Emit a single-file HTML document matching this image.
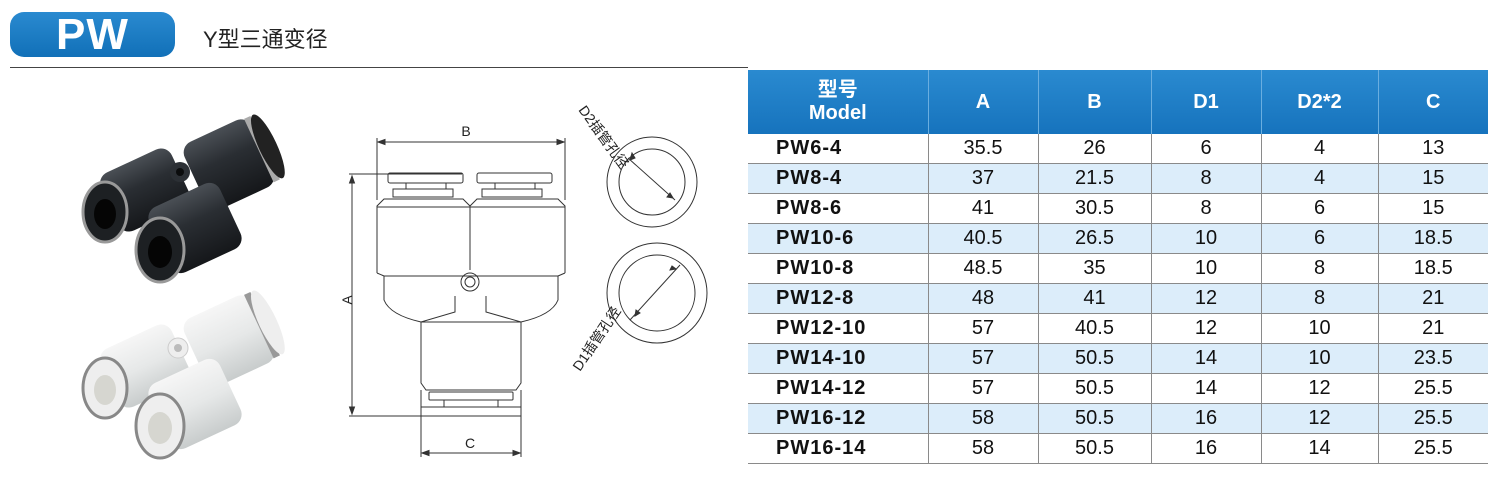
<!DOCTYPE html>
<html><head><meta charset="utf-8"><style>
body{margin:0;width:1500px;height:489px;background:#fff;position:relative;overflow:hidden;font-family:"Liberation Sans","Noto Sans CJK SC",sans-serif}
.badge{position:absolute;left:10px;top:12px;width:165px;height:45px;border-radius:14px;background:linear-gradient(#2a8ad0,#1170b8);color:#fff;font-weight:bold;font-size:44px;line-height:45px;text-align:center;letter-spacing:1px}
.title{position:absolute;left:203px;top:22px;font-size:22px;color:#222}
.hr{position:absolute;left:10px;top:67px;width:738px;height:1px;background:#444}
table{position:absolute;left:748px;top:70px;border-collapse:collapse;font-family:"Liberation Sans","Noto Sans CJK SC",sans-serif}
th{background:linear-gradient(#2a8ad0,#1673bd);color:#fff;font-weight:bold;font-size:20px;height:64px;border-left:1px solid #6aaee0;padding:0;line-height:23px}
th:first-child{border-left:none}
td{height:29px;border-bottom:1px solid #8a8a8a;border-left:1px solid #8a8a8a;text-align:center;font-size:20px;color:#111;padding:0}
td:first-child{border-left:none;font-weight:bold;text-align:left;padding-left:28px;letter-spacing:1px}
tr.b td{background:#dcedfa}
</style></head><body>
<div class="badge">PW</div>
<div class="title">Y型三通变径</div>
<div class="hr"></div>

<svg width="1500" height="489" style="position:absolute;left:0;top:0">
<defs>
<linearGradient id="bk" x1="0" y1="0" x2="0" y2="1"><stop offset="0" stop-color="#4a4f55"/><stop offset=".4" stop-color="#2a2e33"/><stop offset="1" stop-color="#15171a"/></linearGradient>
<linearGradient id="wh" x1="0" y1="0" x2="0" y2="1"><stop offset="0" stop-color="#f6f6f6"/><stop offset=".5" stop-color="#e6e8e8"/><stop offset="1" stop-color="#c8cccc"/></linearGradient>
</defs>
<!-- black fitting -->
<g>
<g transform="rotate(-25 228 165)"><rect x="192" y="128" width="74" height="74" rx="12" fill="url(#bk)"/><rect x="262" y="130" width="7" height="70" fill="#aaa"/><ellipse cx="272" cy="165" rx="9" ry="35" fill="#222"/></g>
<g transform="rotate(-25 145 190)"><rect x="106" y="158" width="78" height="64" rx="12" fill="url(#bk)"/></g>
<circle cx="180" cy="172" r="10" fill="#2c3035"/><circle cx="180" cy="172" r="4" fill="#0b0c0d"/>
<g transform="rotate(-25 195 228)"><rect x="156" y="192" width="78" height="72" rx="12" fill="url(#bk)"/></g>
<ellipse cx="105" cy="212" rx="22" ry="30" fill="#1d2023" stroke="#999" stroke-width="3"/><ellipse cx="105" cy="214" rx="11" ry="15" fill="#050505"/>
<ellipse cx="160" cy="250" rx="24" ry="32" fill="#1d2023" stroke="#999" stroke-width="3"/><ellipse cx="160" cy="252" rx="12" ry="16" fill="#050505"/>
</g>
<!-- white fitting -->
<g transform="translate(0,176)">
<g transform="rotate(-25 228 165)"><rect x="192" y="128" width="74" height="74" rx="12" fill="url(#wh)"/><rect x="262" y="130" width="7" height="70" fill="#999"/><ellipse cx="272" cy="165" rx="9" ry="35" fill="#eee"/></g>
<g transform="rotate(-25 145 190)"><rect x="106" y="158" width="78" height="64" rx="12" fill="url(#wh)"/></g>
<circle cx="178" cy="172" r="10" fill="#eee" stroke="#ccc"/><circle cx="178" cy="172" r="4" fill="#bbb"/>
<g transform="rotate(-25 195 228)"><rect x="156" y="192" width="78" height="72" rx="12" fill="url(#wh)"/></g>
<ellipse cx="105" cy="212" rx="22" ry="30" fill="#eee" stroke="#888" stroke-width="3"/><ellipse cx="105" cy="214" rx="11" ry="15" fill="#d6d6d0"/>
<ellipse cx="160" cy="250" rx="24" ry="32" fill="#eee" stroke="#888" stroke-width="3"/><ellipse cx="160" cy="252" rx="12" ry="16" fill="#d6d6d0"/>
</g>

<!-- technical drawing -->
<g fill="none" stroke="#333" stroke-width="1">
<line x1="377" y1="138" x2="377" y2="200"/><line x1="565" y1="138" x2="565" y2="200"/>
<line x1="378" y1="142" x2="564" y2="142"/>
<path d="M378 142 l7 -2.5 v5z M564 142 l-7 -2.5 v5z" fill="#333"/>
<line x1="349" y1="174" x2="462" y2="174"/>
<line x1="349" y1="416" x2="421" y2="416"/>
<line x1="352" y1="176" x2="352" y2="414"/>
<path d="M352 176 l-2.5 7 h5z M352 414 l-2.5 -7 h5z" fill="#333"/>
<rect x="388" y="173" width="75" height="10" rx="2"/><rect x="477" y="173" width="75" height="10" rx="2"/>
<line x1="406" y1="183" x2="406" y2="189"/><line x1="446" y1="183" x2="446" y2="189"/>
<line x1="495" y1="183" x2="495" y2="189"/><line x1="535" y1="183" x2="535" y2="189"/>
<rect x="393" y="189" width="60" height="8"/><rect x="482" y="189" width="60" height="8"/>
<path d="M377 273 V206 L384 199 H463 L470 206 L477 199 H558 L565 206 V273"/>
<line x1="470" y1="206" x2="470" y2="270"/>
<line x1="377" y1="207" x2="565" y2="207"/>
<path d="M377 273 L384 276 V300 Q390 315 421 322 L455 312 V296 M486 296 V312 L521 322 Q552 315 558 300 V276 L565 273"/>
<line x1="384" y1="276" x2="558" y2="276"/>
<circle cx="470" cy="282" r="9"/><circle cx="470" cy="282" r="5"/>
<path d="M421 322 V383 L426 390 H516 L521 383 V322 M421 322 H521"/>
<rect x="429" y="392" width="84" height="8" rx="1"/>
<line x1="444" y1="400" x2="444" y2="407"/><line x1="498" y1="400" x2="498" y2="407"/>
<path d="M421 390 V416 H521 V390 M421 407 H521"/>
<line x1="421" y1="416" x2="421" y2="457"/><line x1="521" y1="416" x2="521" y2="457"/>
<line x1="422" y1="453" x2="520" y2="453"/>
<path d="M422 453 l7 -2.5 v5z M520 453 l-7 -2.5 v5z" fill="#333"/>
<circle cx="652" cy="182" r="45"/><circle cx="652" cy="182" r="33"/>
<circle cx="657" cy="293" r="50"/><circle cx="657" cy="293" r="38"/>
<line x1="628" y1="158" x2="675" y2="200"/>
<path d="M630 160 l2 -7 l3 5z M673 198 l-6 -1 l3 -4z" fill="#333"/>
<line x1="630" y1="320" x2="680" y2="265"/>
<path d="M635 316 l1 -6 l4 3z M676 269 l-6 1 l2 -4z" fill="#333"/>
</g>
<g font-family="Liberation Sans,Noto Sans CJK SC,sans-serif" font-size="14" fill="#222">
<text x="466" y="136" text-anchor="middle">B</text>
<text x="470" y="448" text-anchor="middle">C</text>
<text x="348" y="304" text-anchor="middle" transform="rotate(-90 348 300)">A</text>
<text x="0" y="0" transform="translate(578 110) rotate(54)">D2插管孔径</text>
<text x="0" y="0" transform="translate(580 372) rotate(-56)">D1插管孔径</text>
</g>
</svg>

<table>
<colgroup><col style="width:180px"><col style="width:110px"><col style="width:113px"><col style="width:110px"><col style="width:117px"><col style="width:110px"></colgroup>
<tr><th>型号<br>Model</th><th>A</th><th>B</th><th>D1</th><th>D2*2</th><th>C</th></tr>
<tr><td>PW6-4</td><td>35.5</td><td>26</td><td>6</td><td>4</td><td>13</td></tr>
<tr class="b"><td>PW8-4</td><td>37</td><td>21.5</td><td>8</td><td>4</td><td>15</td></tr>
<tr><td>PW8-6</td><td>41</td><td>30.5</td><td>8</td><td>6</td><td>15</td></tr>
<tr class="b"><td>PW10-6</td><td>40.5</td><td>26.5</td><td>10</td><td>6</td><td>18.5</td></tr>
<tr><td>PW10-8</td><td>48.5</td><td>35</td><td>10</td><td>8</td><td>18.5</td></tr>
<tr class="b"><td>PW12-8</td><td>48</td><td>41</td><td>12</td><td>8</td><td>21</td></tr>
<tr><td>PW12-10</td><td>57</td><td>40.5</td><td>12</td><td>10</td><td>21</td></tr>
<tr class="b"><td>PW14-10</td><td>57</td><td>50.5</td><td>14</td><td>10</td><td>23.5</td></tr>
<tr><td>PW14-12</td><td>57</td><td>50.5</td><td>14</td><td>12</td><td>25.5</td></tr>
<tr class="b"><td>PW16-12</td><td>58</td><td>50.5</td><td>16</td><td>12</td><td>25.5</td></tr>
<tr><td>PW16-14</td><td>58</td><td>50.5</td><td>16</td><td>14</td><td>25.5</td></tr>
</table>
</body></html>
